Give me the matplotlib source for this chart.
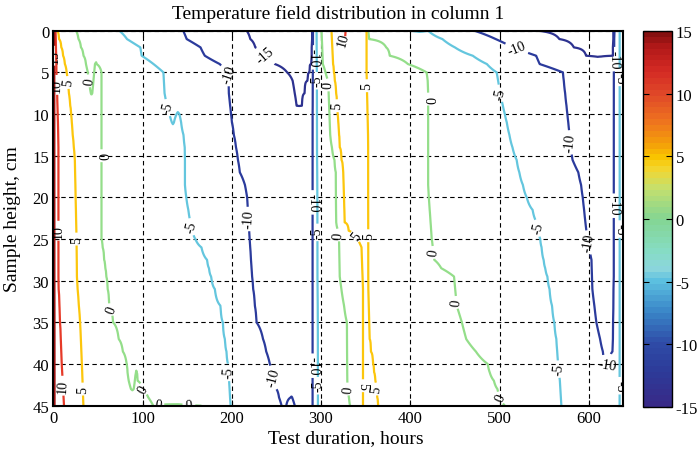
import numpy as np
import matplotlib
matplotlib.use('Agg')
import matplotlib.pyplot as plt
from matplotlib.colors import LinearSegmentedColormap, Normalize
import matplotlib.cm as cm

plt.rcParams['font.family'] = 'serif'
plt.rcParams['font.serif'] = ['Liberation Serif', 'DejaVu Serif']
plt.rcParams['axes.unicode_minus'] = False

# ---------------- texts / ticks ----------------
TITLE = 'Temperature field distribution in column 1'
XLABEL = 'Test duration, hours'
YLABEL = 'Sample height, cm'
LEVELS = [-15, -10, -5, 0, 5, 10, 15]
LINE_COLORS = ['#2d3290', '#2b3b9c', '#64c6de', '#94de8a', '#fcc60c', '#e63a28', '#9e1414']
X_TICKS = [0, 100, 200, 300, 400, 500, 600]
Y_TICKS = [0, 5, 10, 15, 20, 25, 30, 35, 40, 45]
CBAR_TICKS = [-15, -10, -5, 0, 5, 10, 15]
T_END = 638
T_START_VALUE = 16.5
T_END_VALUE = -2.5
H_ROWS = [0, 1, 2, 3, 4, 5, 6, 7.5, 9, 10, 11, 12.5, 14, 15.5, 17, 18.5, 20, 21.5,
          23, 24, 25, 26, 27.5, 28.5, 29.5, 31, 33, 35, 37, 38.5, 40, 41, 42, 43, 44, 45]

# ---------------- isotherms: (level, heights, times) ----------------
ISO_P15 = (15, [0, 45], [1.1, 1.3])
ISO_P10_LEFT = (10, [0, 5, 13, 30, 40, 45], [2.5, 3.5, 5.6, 5.6, 9.4, 12.0])
ISO_P5_LEFT = (5, [0, 2, 5, 7, 10, 13, 15, 25, 30, 35, 40, 45],
               [3.8, 9, 15, 17, 20, 22, 24, 26, 26.5, 30, 32, 33.6])
ISO_0_DOWN = (0, [0, 2, 4.5, 8.2], [25.4, 31, 38, 43])
ISO_0_UP = (0, [3.7, 8.2], [47, 43])
ISO_0_MAIN = (0, [3.7, 5, 25, 30, 34, 35, 39.8, 41.8, 43.8], [47, 54, 54, 60, 63.5, 67, 82, 84, 89])
ISO_0_FINGER = (0, [40.8, 43.8], [93, 89])
ISO_0_TAIL = (0, [40.8, 42.5, 43, 45], [93, 95, 100.8, 112])
ISO_0_FOOT = (0, [45], [166])
ISO_M5_TOP = (-5, [0, 1.4, 2, 3, 3.8, 4.2, 8.2, 11.4], [74, 86, 97.5, 99, 101.6, 123, 125, 134])
ISO_M5_NOTCH = (-5, [9.4, 11.4], [140, 134])
ISO_M5_LEFT = (-5, [9.4, 12.2, 14.2, 19, 22.6, 24.6, 25.8, 26.4, 29, 31, 33.4, 35, 40.2, 45],
               [140, 145.6, 147.5, 147.5, 153, 156.8, 164, 170, 175.5, 181, 188.6, 190, 196, 198.6])
ISO_M10_LEFT = (-10, [0, 1.4, 1.8, 3.4, 3.8, 4.2, 5, 6.8, 11.4, 14.2, 17, 19, 25, 30, 35, 37,
                      39.4, 40.6, 43, 45],
                [145.6, 151, 164, 171.7, 179, 194, 197, 196, 200.5, 205, 209, 216.6, 220, 223,
                 227.7, 235, 240.7, 244.6, 250, 255.8])
ISO_M10_BUMP_L = (-10, [43.8, 45], [267, 261])
ISO_M10_BUMP_R = (-10, [43.8, 45], [267, 270.6])
ISO_M15_L = (-15, [0, 1.8, 3.4, 4.6, 5.2, 6.2, 9, 9.3], [216.6, 224, 242.6, 254, 266, 268.7, 272.6, 275])
ISO_M15_R = (-15, [0, 1.4, 4.2, 7.4, 9.3], [290.2, 290.2, 289, 281.8, 278])
ISO_M10_RISE = (-10, [0, 45], [290.8, 290.6])
ISO_M5_RISE = (-5, [0, 45], [295, 296.5])
ISO_0_RISE = (0, [0, 4, 6, 13, 15, 16.2, 23, 24.2, 29.8, 33.8, 35, 42.6, 45],
              [300.5, 302, 308, 310.5, 314, 316.5, 317, 320, 321, 327, 329, 329.5, 332.6])
ISO_P5_RISE = (5, [0, 4, 8, 14, 17, 23.4, 24, 25, 26, 31, 45],
               [311.7, 313.5, 317.3, 321, 324.7, 326.6, 331, 341, 345.4, 347, 347])
ISO_P10_LOOP_L = (10, [0, 1.6], [324.5, 325.8])
ISO_P10_LOOP_R = (10, [0, 1.6], [327.5, 326.2])
ISO_P5_FALL = (5, [0, 5, 13, 30, 37.8, 39.8, 43, 45], [351, 351, 352.7, 352.7, 354.6, 358, 362, 364])
ISO_0_FALL = (0, [0, 1.6, 2, 3, 3.6, 4.2, 4.8, 6.4, 19, 25, 28.2, 28.6, 29.5, 33, 34, 36.6,
                  37.8, 39, 39.4, 41, 42.6, 43.8, 45],
              [351.7, 354.7, 373, 377, 392, 400, 418, 420, 420, 424, 427.7, 437, 449, 452, 457,
               459, 470, 476, 485.5, 489, 496.5, 500, 506])
ISO_M5_EDGE = (-5, [0], [400])
ISO_M5_FALL = (-5, [0, 0.4, 1.4, 2.2, 3, 4.2, 4.8, 7, 8.2, 11.4, 13, 14.2, 15.4, 17.4, 20, 21.6,
                    22.6, 24.6, 28.2, 29.8, 31, 33.8, 37, 39.8, 41.8, 45],
               [420, 424, 444, 452, 470, 489, 496.5, 500, 502, 509, 512, 515, 519, 523, 530.5,
                537.5, 541, 545, 550.5, 554.4, 556, 560, 563.7, 565.5, 567.5, 569.3])
ISO_M10_FALL = (-10, [0, 0.2, 1.4, 1.6, 2.6, 3, 4, 4.4, 5, 12.6, 15.2, 17.4, 20.2, 23.8, 27.4,
                      31, 35, 38.6, 40.2, 40.5],
                [472, 491, 498, 507.6, 526, 541, 545, 567, 571, 578.6, 580.5, 590, 593.5, 597,
                 603, 604, 608.5, 616, 618, 620])
ISO_M15_FALL = (-15, [0, 1, 1.4, 3], [543, 567, 575, 597])
ISO_M15_BACK = (-15, [0, 3], [627.8, 627])
ISO_M10_BACK = (-10, [0, 3, 30, 38.3, 40.5], [628.6, 628.2, 628, 627, 622])
ISO_M5_END = (-5, [0, 45], [634.6, 634.6])

ISOTHERMS = [ISO_P15, ISO_P10_LEFT, ISO_P5_LEFT, ISO_0_DOWN, ISO_0_UP, ISO_0_MAIN, ISO_0_FINGER,
             ISO_0_TAIL, ISO_0_FOOT, ISO_M5_TOP, ISO_M5_NOTCH, ISO_M5_LEFT, ISO_M10_LEFT,
             ISO_M10_BUMP_L, ISO_M10_BUMP_R, ISO_M15_L, ISO_M15_R, ISO_M10_RISE, ISO_M5_RISE,
             ISO_0_RISE, ISO_P5_RISE, ISO_P10_LOOP_L, ISO_P10_LOOP_R, ISO_P5_FALL, ISO_0_FALL,
             ISO_M5_EDGE, ISO_M5_FALL, ISO_M10_FALL, ISO_M15_FALL, ISO_M15_BACK, ISO_M10_BACK,
             ISO_M5_END]

# ---------------- local extremes between isotherms: (heights, times, values) ----------------
EXT_TONGUE_COLD = ([3.9, 8.1], [41, 43], [-1.0, -0.1])
EXT_TONGUE_WARM = ([3.9, 4.5, 8.1], [47.6, 50, 50], [0.2, 0.8, 1.0])
EXT_NOTCH_COLD = ([40.9, 43.7], [88, 88.8], [-0.6, -0.1])
EXT_FINGER_WARM = ([40.9, 42, 43, 43.7], [92.95, 93.3, 95, 97], [0.1, 0.5, 0.6, 0.6])
EXT_FOOT_WARM = ([45], [140], [0.4])
EXT_SPIKE_COLD = ([9.5, 11.3], [134, 134], [-5.4, -5.05])
EXT_SPIKE_WARM = ([9.5, 11.3], [139.7, 139.2], [-4.8, -4.5])
EXT_POCKET1 = ([0, 3, 5, 7.5, 9], [255, 265, 276, 276, 275.6], [-16.5, -16.2, -15.6, -15.3, -15.1])
EXT_VALLEY1 = ([9.5, 20, 40, 43, 45], [265, 255, 265, 278, 280], [-13.5, -12.5, -12.0, -11.2, -11.0])
EXT_VALLEY1_FOOT = ([44, 45], [257, 258.3], [-10.3, -10.5])
EXT_BUMP = ([44, 45], [266.8, 266], [-9.9, -9.5])
EXT_WARM_PEAK = ([0, 1, 2, 4, 10, 20, 25, 31, 45], [326, 326, 327, 330, 337, 340, 349, 350, 356],
                 [11, 10.6, 9.5, 8, 7, 7, 6.5, 6, 6])
EXT_EDGE_COLD = ([0], [410], [-5.25])
EXT_POCKET2 = ([0, 1, 2, 3], [595, 605, 610, 614], [-16, -15.8, -15.5, -15.2])
EXT_VALLEY2 = ([4, 10, 20, 30, 38, 40], [610, 610, 612, 615, 620, 621], [-14, -13, -12, -11.5, -10.8, -10.2])
EXT_VALLEY2_FOOT = ([40.6, 45], [616, 612], [-9.8, -9.0])

EXTREMES = [EXT_TONGUE_COLD, EXT_TONGUE_WARM, EXT_NOTCH_COLD, EXT_FINGER_WARM, EXT_FOOT_WARM,
            EXT_SPIKE_COLD, EXT_SPIKE_WARM, EXT_POCKET1, EXT_VALLEY1, EXT_VALLEY1_FOOT, EXT_BUMP,
            EXT_WARM_PEAK, EXT_EDGE_COLD, EXT_POCKET2, EXT_VALLEY2, EXT_VALLEY2_FOOT]

# contour label spots (time, height) as seen in the picture
LABEL_SPOTS = [(1.2, 3.0), (3.5, 6.5), (17, 6.2), (41, 6.0), (129, 9.2), (197, 5.2), (54, 15),
               (5.6, 24), (26, 25), (156, 23.5), (63, 33.5), (10.5, 42.6), (33, 43), (101, 43),
               (117, 44.7), (152, 44.8), (197, 41), (218, 22.6), (247, 41.6), (235, 3.2),
               (290.5, 3.2), (295.5, 6), (308, 6.5), (318, 9), (326, 1.0), (351, 6.6),
               (420, 8.2), (519, 2.2), (625, 3.4), (501, 7.5), (634.6, 5.6), (579, 13.4),
               (290.7, 20.6), (296, 24.2), (320, 24.5), (337, 24.8), (352.7, 24.6), (546, 23.6),
               (426, 26.6), (600, 25.4), (628, 21), (634.6, 23.8), (452, 32.6), (502, 44),
               (567, 40.6), (621, 40.3), (634.6, 42.6), (290.6, 40.2), (296.3, 42.6),
               (329.5, 43), (347, 42.6), (362, 43)]


def _take(hs, ts, vs, h):
    hs = np.asarray(hs, float)
    if len(hs) == 1:
        return (ts[0], vs[0]) if abs(h - hs[0]) < 1e-9 else None
    if h < hs[0] - 1e-9 or h > hs[-1] + 1e-9:
        return None
    return float(np.interp(h, hs, ts)), float(np.interp(h, hs, vs))


def build_field(t_grid):
    rows = []
    for h in H_ROWS:
        pts = [(0.0, T_START_VALUE), (float(T_END), T_END_VALUE)]
        for level, hs, ts in ISOTHERMS:
            p = _take(hs, ts, [level] * len(hs), h)
            if p:
                pts.append(p)
        for hs, ts, vs in EXTREMES:
            p = _take(hs, ts, vs, h)
            if p:
                pts.append(p)
        pts.sort(key=lambda p: p[0])
        xs = np.array([p[0] for p in pts])
        ys = np.array([p[1] for p in pts])
        rows.append(np.interp(t_grid, xs, ys))
    return np.array(rows)


t_grid = np.linspace(0, T_END, 2 * T_END + 1)
Z = build_field(t_grid)

# ---------------- colormap for the colour bar ----------------
CMAP_STOPS = [(-15, '#382a88'), (-12, '#2c3d9b'), (-10, '#2f4ca8'), (-7.5, '#3a86c8'),
              (-5, '#5cc0e0'), (-4, '#8cd6dc'), (-2.5, '#86dcc2'), (0, '#84d592'),
              (2.5, '#c4e06e'), (4, '#f2d630'), (5, '#f9c400'), (6, '#f4a208'), (8, '#ee7020'),
              (10, '#e04a28'), (12, '#d42a24'), (14, '#b01818'), (15, '#861010')]
cmap = LinearSegmentedColormap.from_list(
    'temp', [((v + 15) / 30.0, c) for v, c in CMAP_STOPS], N=64)

fig = plt.figure(figsize=(6.99, 4.52), dpi=100)
ax = fig.add_axes([0.07625, 0.1002, 0.8146, 0.8296])
cax = fig.add_axes([0.9203, 0.0973, 0.0406, 0.8319])

ax.grid(True, linestyle=(0, (4, 3)), color='k', linewidth=0.8)
cs = ax.contour(t_grid, H_ROWS, Z, levels=LEVELS, colors=LINE_COLORS, linewidths=1.6,
                linestyles='solid')
ax.clabel(cs, manual=LABEL_SPOTS, fmt='%d', fontsize=10, colors='k', inline=True,
          inline_spacing=3)

ax.set_xlim(0, T_END)
ax.set_ylim(45, 0)
ax.set_xticks(X_TICKS)
ax.set_yticks(Y_TICKS)
ax.tick_params(direction='in', length=4, width=0.8, labelsize=12, pad=3, top=True, right=True)
for s in ax.spines.values():
    s.set_linewidth(1.5)
ax.set_title(TITLE, fontsize=14, pad=9)
ax.set_xlabel(XLABEL, fontsize=14)
ax.set_ylabel(YLABEL, fontsize=14)
ax.xaxis.set_label_coords(0.513, -0.062)
ax.yaxis.set_label_coords(-0.0567, 0.5)

sm = cm.ScalarMappable(norm=Normalize(-15, 15), cmap=cmap)
cb = fig.colorbar(sm, cax=cax, ticks=CBAR_TICKS)
cb.ax.tick_params(direction='in', length=4, width=0.8, labelsize=12, pad=3, left=True, right=True)
cb.outline.set_linewidth(1.0)
cb.ax.set_yticklabels([str(v) for v in CBAR_TICKS])

fig.savefig('out.png', dpi=100)
